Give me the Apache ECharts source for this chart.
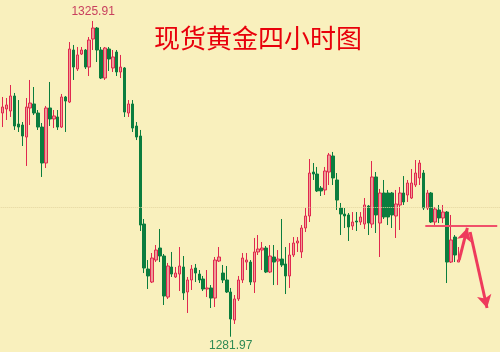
<!DOCTYPE html>
<html>
<head>
<meta charset="utf-8">
<script src="https://cdn.jsdelivr.net/npm/echarts@6/dist/echarts.min.js"></script>
<style>
html,body{margin:0;padding:0;background:#f9f0bd;}
#c{width:500px;height:352px;}
</style>
</head>
<body>
<div id="c"></div>
<script>
// ---- data ----
const title = '现货黄金四小时图';
const slotCount = 127; // 117 candles + empty space on the right for annotations
const open = [1313.10,1313.66,1313.38,1315.47,1311.57,1311.43,1309.76,1313.80,1314.36,1313.10,
1311.15,1306.14,1313.80,1312.27,1312.55,1311.15,1315.33,1314.63,1321.87,1319.23,
1321.31,1321.87,1319.50,1323.40,1324.93,1321.87,1317.97,1322.01,1319.37,1321.59,
1318.81,1319.37,1313.10,1314.36,1311.29,1309.90,1297.65,1291.39,1289.58,1292.64,
1294.31,1293.20,1287.49,1291.67,1290.28,1290.69,1291.67,1288.19,1289.86,1291.53,
1290.69,1290.00,1288.61,1288.75,1287.35,1292.50,1290.83,1289.86,1288.19,1284.29,
1287.22,1289.86,1292.36,1292.36,1289.58,1293.76,1294.03,1294.31,1290.97,1293.06,
1292.50,1292.78,1292.09,1290.42,1293.34,1295.01,1293.76,1297.10,1298.77,1304.89,
1304.61,1302.66,1302.39,1304.89,1307.12,1303.78,1299.88,1299.04,1298.91,1297.38,
1298.07,1297.93,1297.65,1300.16,1297.65,1304.20,1297.79,1301.97,1301.97,1301.97,
1298.77,1300.30,1301.97,1301.69,1301.27,1303.08,1304.06,1304.75,1299.88,1301.97,
1297.93,1299.60,1298.49,1299.32,1292.36,1295.84,1292.36];
const close = [1313.94,1314.22,1315.47,1311.29,1311.15,1309.90,1313.94,1314.49,1313.10,1311.15,
1306.14,1313.80,1312.27,1312.69,1311.15,1315.33,1314.77,1322.01,1319.50,1321.18,
1321.87,1319.50,1323.26,1324.93,1321.87,1317.97,1322.15,1320.62,1320.90,1318.81,
1319.50,1313.24,1314.36,1311.01,1309.76,1297.51,1291.53,1290.42,1292.92,1294.03,
1293.20,1287.63,1291.81,1290.69,1290.83,1291.81,1288.05,1289.86,1291.39,1290.83,
1289.86,1288.61,1288.75,1287.35,1292.64,1293.06,1289.86,1288.19,1284.43,1287.22,
1289.86,1292.92,1292.64,1289.58,1293.76,1294.17,1294.31,1290.97,1293.20,1292.36,
1292.78,1291.95,1290.42,1293.34,1295.01,1295.29,1297.10,1298.77,1304.75,1304.61,
1302.25,1302.25,1305.03,1307.26,1304.06,1300.99,1299.04,1298.77,1297.24,1297.93,
1297.93,1298.63,1300.30,1297.79,1304.20,1298.91,1301.97,1298.63,1298.63,1298.91,
1300.44,1301.97,1300.72,1303.36,1303.36,1304.75,1306.14,1299.88,1301.97,1297.93,
1299.74,1298.49,1299.32,1292.36,1295.43,1293.34,1292.64];
const low = [1311.15,1312.13,1312.55,1310.74,1310.46,1308.51,1305.73,1311.43,1312.82,1310.74,
1304.20,1305.45,1311.29,1311.01,1310.74,1311.01,1310.46,1314.49,1317.70,1318.95,
1321.18,1319.23,1318.25,1321.87,1320.20,1317.83,1317.70,1318.95,1318.81,1318.25,
1317.97,1312.55,1312.55,1310.46,1309.34,1296.68,1290.83,1288.61,1289.44,1292.36,
1292.36,1286.38,1287.22,1290.28,1290.14,1288.33,1287.08,1285.27,1288.47,1289.58,
1289.44,1288.33,1287.49,1285.96,1286.10,1292.36,1289.44,1288.05,1281.97,1283.74,
1286.94,1289.44,1291.25,1289.16,1288.05,1293.34,1291.25,1290.83,1290.83,1289.16,
1289.16,1291.67,1287.91,1288.75,1293.06,1293.76,1292.92,1296.54,1297.93,1303.78,
1302.11,1301.55,1301.69,1303.08,1303.08,1299.60,1296.12,1297.10,1295.29,1296.82,
1296.68,1297.51,1296.96,1296.12,1297.10,1296.40,1293.06,1298.35,1297.51,1297.10,
1295.71,1296.82,1300.30,1300.72,1301.13,1302.80,1303.08,1299.60,1299.60,1297.79,
1297.51,1297.79,1297.79,1289.44,1292.23,1292.36,1292.36];
const high = [1315.33,1315.19,1317.00,1315.89,1314.91,1311.85,1315.19,1317.70,1316.72,1313.52,
1311.71,1314.08,1317.42,1313.52,1313.52,1315.75,1315.47,1322.98,1322.57,1322.29,
1322.29,1322.01,1323.68,1325.91,1325.07,1322.29,1322.29,1322.29,1321.87,1321.87,
1321.18,1319.50,1314.91,1314.91,1311.85,1310.74,1298.35,1292.64,1293.62,1294.73,
1296.96,1293.48,1292.23,1293.76,1291.67,1294.45,1293.20,1290.28,1291.95,1292.09,
1291.25,1290.42,1291.25,1289.16,1293.06,1294.45,1291.95,1291.81,1288.75,1287.77,
1290.42,1293.62,1293.62,1292.64,1295.71,1296.12,1295.15,1294.59,1294.73,1294.73,
1294.03,1298.35,1294.45,1295.01,1295.84,1295.84,1297.51,1299.88,1306.70,1306.14,
1305.59,1302.94,1305.59,1307.54,1307.68,1304.75,1300.58,1299.88,1299.18,1299.32,
1299.32,1299.32,1301.27,1300.30,1306.42,1304.89,1302.53,1303.78,1302.39,1302.11,
1302.39,1302.80,1304.33,1303.78,1305.31,1306.56,1306.56,1305.17,1302.39,1302.11,
1300.02,1300.30,1300.30,1299.46,1298.91,1296.12,1294.45];
// annotation: resistance level and the two hand-drawn arrows (slot index, price)
const resistance = {from: 107.5, to: 125.8, price: 1297.38};
const arrowUp = [[116.1, 1292.64], [118.2, 1297.10]];
const arrowDown = [[118.9, 1296.54], [123.2, 1285.96]];
const refLevel = 1300;

// ---- chart ----
const categories = Array.from({length: slotCount}, (_, i) => String(i));
const candles = open.map((o, i) => [o, close[i], low[i], high[i]]);

const chart = echarts.init(document.getElementById('c'), null, {renderer: 'canvas'});
chart.setOption({
  animation: false,
  backgroundColor: '#f9f0bd',
  title: {
    text: title, left: 149, top: 20,
    textStyle: {color: '#e8000b', fontSize: 26, fontWeight: 'normal', fontFamily: 'Noto Sans CJK SC'}
  },
  grid: {left: 0.73, right: 0, top: 0, bottom: 0, containLabel: false},
  xAxis: [
    {type: 'category', data: categories, boundaryGap: true, show: false},
    {type: 'value', min: -0.5, max: slotCount - 0.5, show: false}
  ],
  yAxis: {type: 'value', min: 1279.84, max: 1328.83, show: false, splitLine: {show: false}},
  series: [
    {
      type: 'candlestick',
      data: candles,
      barWidth: 3,
      itemStyle: {
        color: '#ef9a96', color0: '#0b7d3e',
        borderColor: '#e0284f', borderColor0: '#0b7d3e', borderWidth: 1
      },
      markPoint: {
        symbol: 'circle', symbolSize: 1,
        itemStyle: {color: 'rgba(0,0,0,0)'},
        data: [
          {type: 'max', valueDim: 'highest', label: {show: true, position: 'top', distance: 3,
            color: '#c8405e', fontSize: 12, fontFamily: 'Liberation Sans', formatter: p => p.value.toFixed(2)}},
          {type: 'min', valueDim: 'lowest', label: {show: true, position: 'bottom', distance: 2,
            color: '#2f8a55', fontSize: 12, fontFamily: 'Liberation Sans', formatter: p => p.value.toFixed(2)}}
        ]
      },
      markLine: {
        silent: true, symbol: 'none', label: {show: false},
        lineStyle: {color: '#e3d5a0', type: 'dotted', width: 1},
        data: [{yAxis: refLevel}]
      }
    },
    {
      type: 'line', xAxisIndex: 1, data: [], silent: true,
      markLine: {
        silent: true, label: {show: false},
        symbol: ['none', 'none'],
        data: [
          [{coord: [resistance.from, resistance.price], lineStyle: {color: '#f0506a', width: 2, type: 'solid'}},
           {coord: [resistance.to, resistance.price]}],
          [{coord: arrowUp[0], symbol: 'none', lineStyle: {color: '#ee3a5c', width: 3, type: 'solid'}},
           {coord: arrowUp[1], symbol: 'arrow', symbolSize: [11, 13]}],
          [{coord: arrowDown[0], symbol: 'none', lineStyle: {color: '#ee3a5c', width: 3, type: 'solid'}},
           {coord: arrowDown[1], symbol: 'arrow', symbolSize: [11, 13]}]
        ]
      }
    }
  ]
});
</script>
</body>
</html>
